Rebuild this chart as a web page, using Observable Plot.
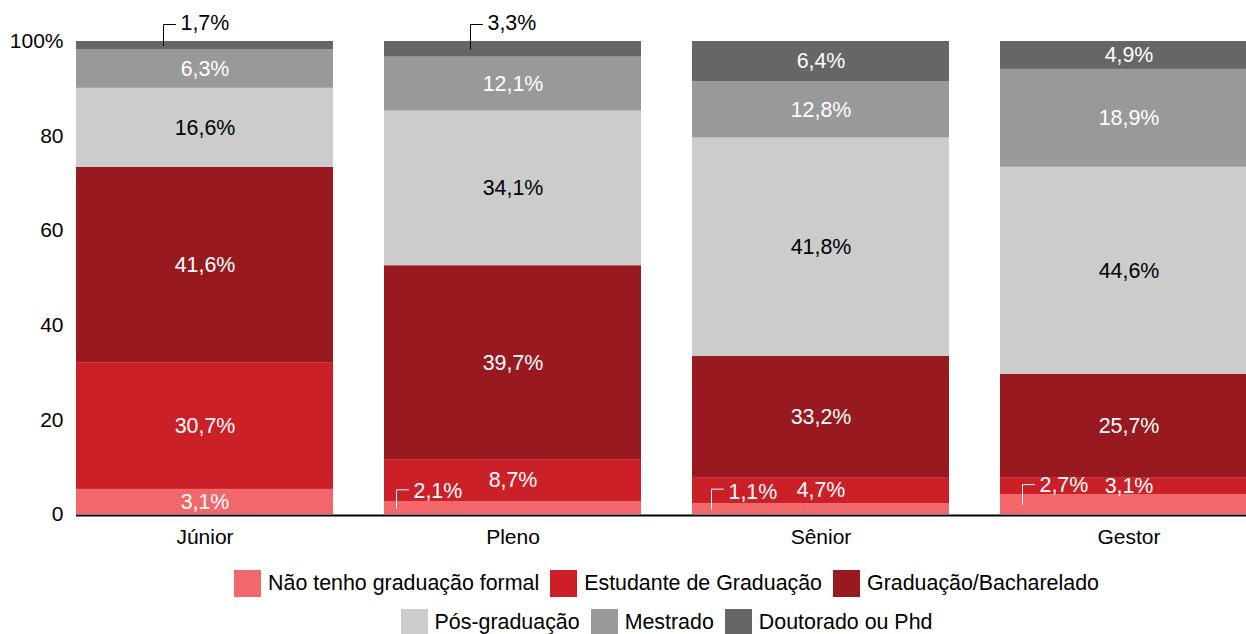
<!DOCTYPE html>
<html><head><meta charset="utf-8">
<script src="https://cdn.jsdelivr.net/npm/d3@7"></script>
<script src="https://cdn.jsdelivr.net/npm/@observablehq/plot@0.6"></script>
<style>
html,body{margin:0;padding:0;background:#fff;overflow:hidden;}
#wrap{width:1246px;overflow:hidden;font-family:"Liberation Sans",Arial,sans-serif;}
#chart{width:1257px;}
#chart svg{max-width:none !important;display:block;}
.legend{margin-left:76px;width:1181px;margin-top:8px;}
.row{display:flex;justify-content:center;align-items:center;height:39px;gap:11px;}
.item{display:flex;align-items:center;font-size:21.4px;color:#000;white-space:nowrap;}
.sw{width:27px;height:27px;margin-right:7px;flex:none;}
</style></head><body>
<div id="wrap"><div id="chart"></div><div class="legend" id="legend"></div></div>
<script>
// ---- data ----
const categories = ["Júnior", "Pleno", "Sênior", "Gestor"];
const series = ["Não tenho graduação formal", "Estudante de Graduação", "Graduação/Bacharelado",
                "Pós-graduação", "Mestrado", "Doutorado ou Phd"];
const colors = ["#f2686a", "#cc2028", "#981a20", "#cccccc", "#999999", "#666666"];

// segment heights as drawn (percent)
const heightNaoTenho   = [5.3, 2.75, 2.3, 4.2];
const heightEstudante  = [26.8, 8.85, 5.5, 3.6];
const heightGraduacao  = [41.3, 41.0, 25.6, 21.8];
const heightPos        = [16.7, 32.7, 46.2, 43.8];
const heightMestrado   = [8.2, 11.4, 11.9, 20.7];
const heightDoutorado  = [1.7, 3.3, 8.5, 5.9];

// printed labels
const labelNaoTenho  = ["3,1%", "2,1%", "1,1%", "2,7%"];
const labelEstudante = ["30,7%", "8,7%", "4,7%", "3,1%"];
const labelGraduacao = ["41,6%", "39,7%", "33,2%", "25,7%"];
const labelPos       = ["16,6%", "34,1%", "41,8%", "44,6%"];
const labelMestrado  = ["6,3%", "12,1%", "12,8%", "18,9%"];
const labelDoutorado = ["1,7%", "3,3%", "6,4%", "4,9%"];

const yTicks = [0, 20, 40, 60, 80, 100];

// ---- table ----
const heights = [heightNaoTenho, heightEstudante, heightGraduacao, heightPos, heightMestrado, heightDoutorado];
const labels = [labelNaoTenho, labelEstudante, labelGraduacao, labelPos, labelMestrado, labelDoutorado];

// label callouts (layout only)
const callouts = [
  {category: "Júnior", series: "Doutorado ou Phd", dx: -41.5, rise: 21, textDy: -22, color: "black"},
  {category: "Pleno", series: "Doutorado ou Phd", dx: -42.5, rise: 24.8, textDy: -25.8, color: "black"},
  {category: "Pleno", series: "Não tenho graduação formal", dx: -116.5, rise: 18.2, textDy: -16.5, color: "white"},
  {category: "Sênior", series: "Não tenho graduação formal", dx: -109.5, rise: 19.9, textDy: -16.6, color: "white"},
  {category: "Gestor", series: "Não tenho graduação formal", dx: -106.5, rise: 20, textDy: -19.5, color: "white"}
];
const isCallout = (c, s) => callouts.some(o => o.category === c && o.series === s);

const rows = [];
categories.forEach((c, ci) => {
  let acc = 0;
  series.forEach((s, si) => {
    const v = heights[si][ci];
    rows.push({category: c, series: s, value: v, y1: acc, y2: acc + v, mid: acc + v / 2,
               label: labels[si][ci], callout: isCallout(c, s)});
    acc += v;
  });
});

const leaderShape = {
  draw(context, l) {
    context.moveTo(0, 0);
    context.lineTo(0, -l);
    context.lineTo(12, -l);
  }
};

const FS = 21.4;
const marks = [
  Plot.barY(rows, {x: "category", y1: "y1", y2: "y2", fill: "series"}),
  Plot.ruleY([0], {stroke: "black", strokeWidth: 2, dy: 1}),
  Plot.text(rows.filter(d => !d.callout && d.series !== "Pós-graduação"),
    {x: "category", y: "mid", text: "label", fill: "white", fontSize: FS}),
  Plot.text(rows.filter(d => !d.callout && d.series === "Pós-graduação"),
    {x: "category", y: "mid", text: "label", fill: "black", fontSize: FS}),
  Plot.axisX({tickSize: 0, tickPadding: 15, fontSize: 21, label: null, fill: "black"}),
  Plot.axisY({ticks: yTicks, tickSize: 0, tickPadding: 13, fontSize: 21, label: null, fill: "black",
    tickFormat: d => d === 100 ? "100%" : String(d)})
];
callouts.forEach(o => {
  const r = rows.filter(d => d.category === o.category && d.series === o.series);
  marks.push(Plot.vector(r, {x: "category", y: "mid", length: o.rise, rotate: 0, anchor: "start",
    shape: leaderShape, stroke: o.color, strokeWidth: 1, dx: o.dx}));
  marks.push(Plot.text(r, {x: "category", y: "mid", text: "label", textAnchor: "start",
    fill: o.color, fontSize: FS, dx: o.dx + 17, dy: o.textDy}));
});

const chart = Plot.plot({
  width: 1257,
  height: 556,
  marginLeft: 76,
  marginRight: 0,
  marginTop: 41,
  marginBottom: 42,
  x: {domain: categories, paddingInner: 0.1656, paddingOuter: 0, align: 0},
  y: {domain: [0, 100]},
  color: {domain: series, range: colors},
  style: {fontFamily: '"Liberation Sans", Arial, sans-serif', fontSize: "21px", color: "black",
          background: "white", overflow: "visible", maxWidth: "none"},
  marks
});
document.getElementById("chart").appendChild(chart);

// legend
const legend = document.getElementById("legend");
[[0, 1, 2], [3, 4, 5]].forEach(idx => {
  const row = document.createElement("div");
  row.className = "row";
  idx.forEach(i => {
    const it = document.createElement("div");
    it.className = "item";
    const sw = document.createElement("span");
    sw.className = "sw";
    sw.style.background = colors[i];
    it.appendChild(sw);
    it.appendChild(document.createTextNode(series[i]));
    row.appendChild(it);
  });
  legend.appendChild(row);
});
</script>
</body></html>
